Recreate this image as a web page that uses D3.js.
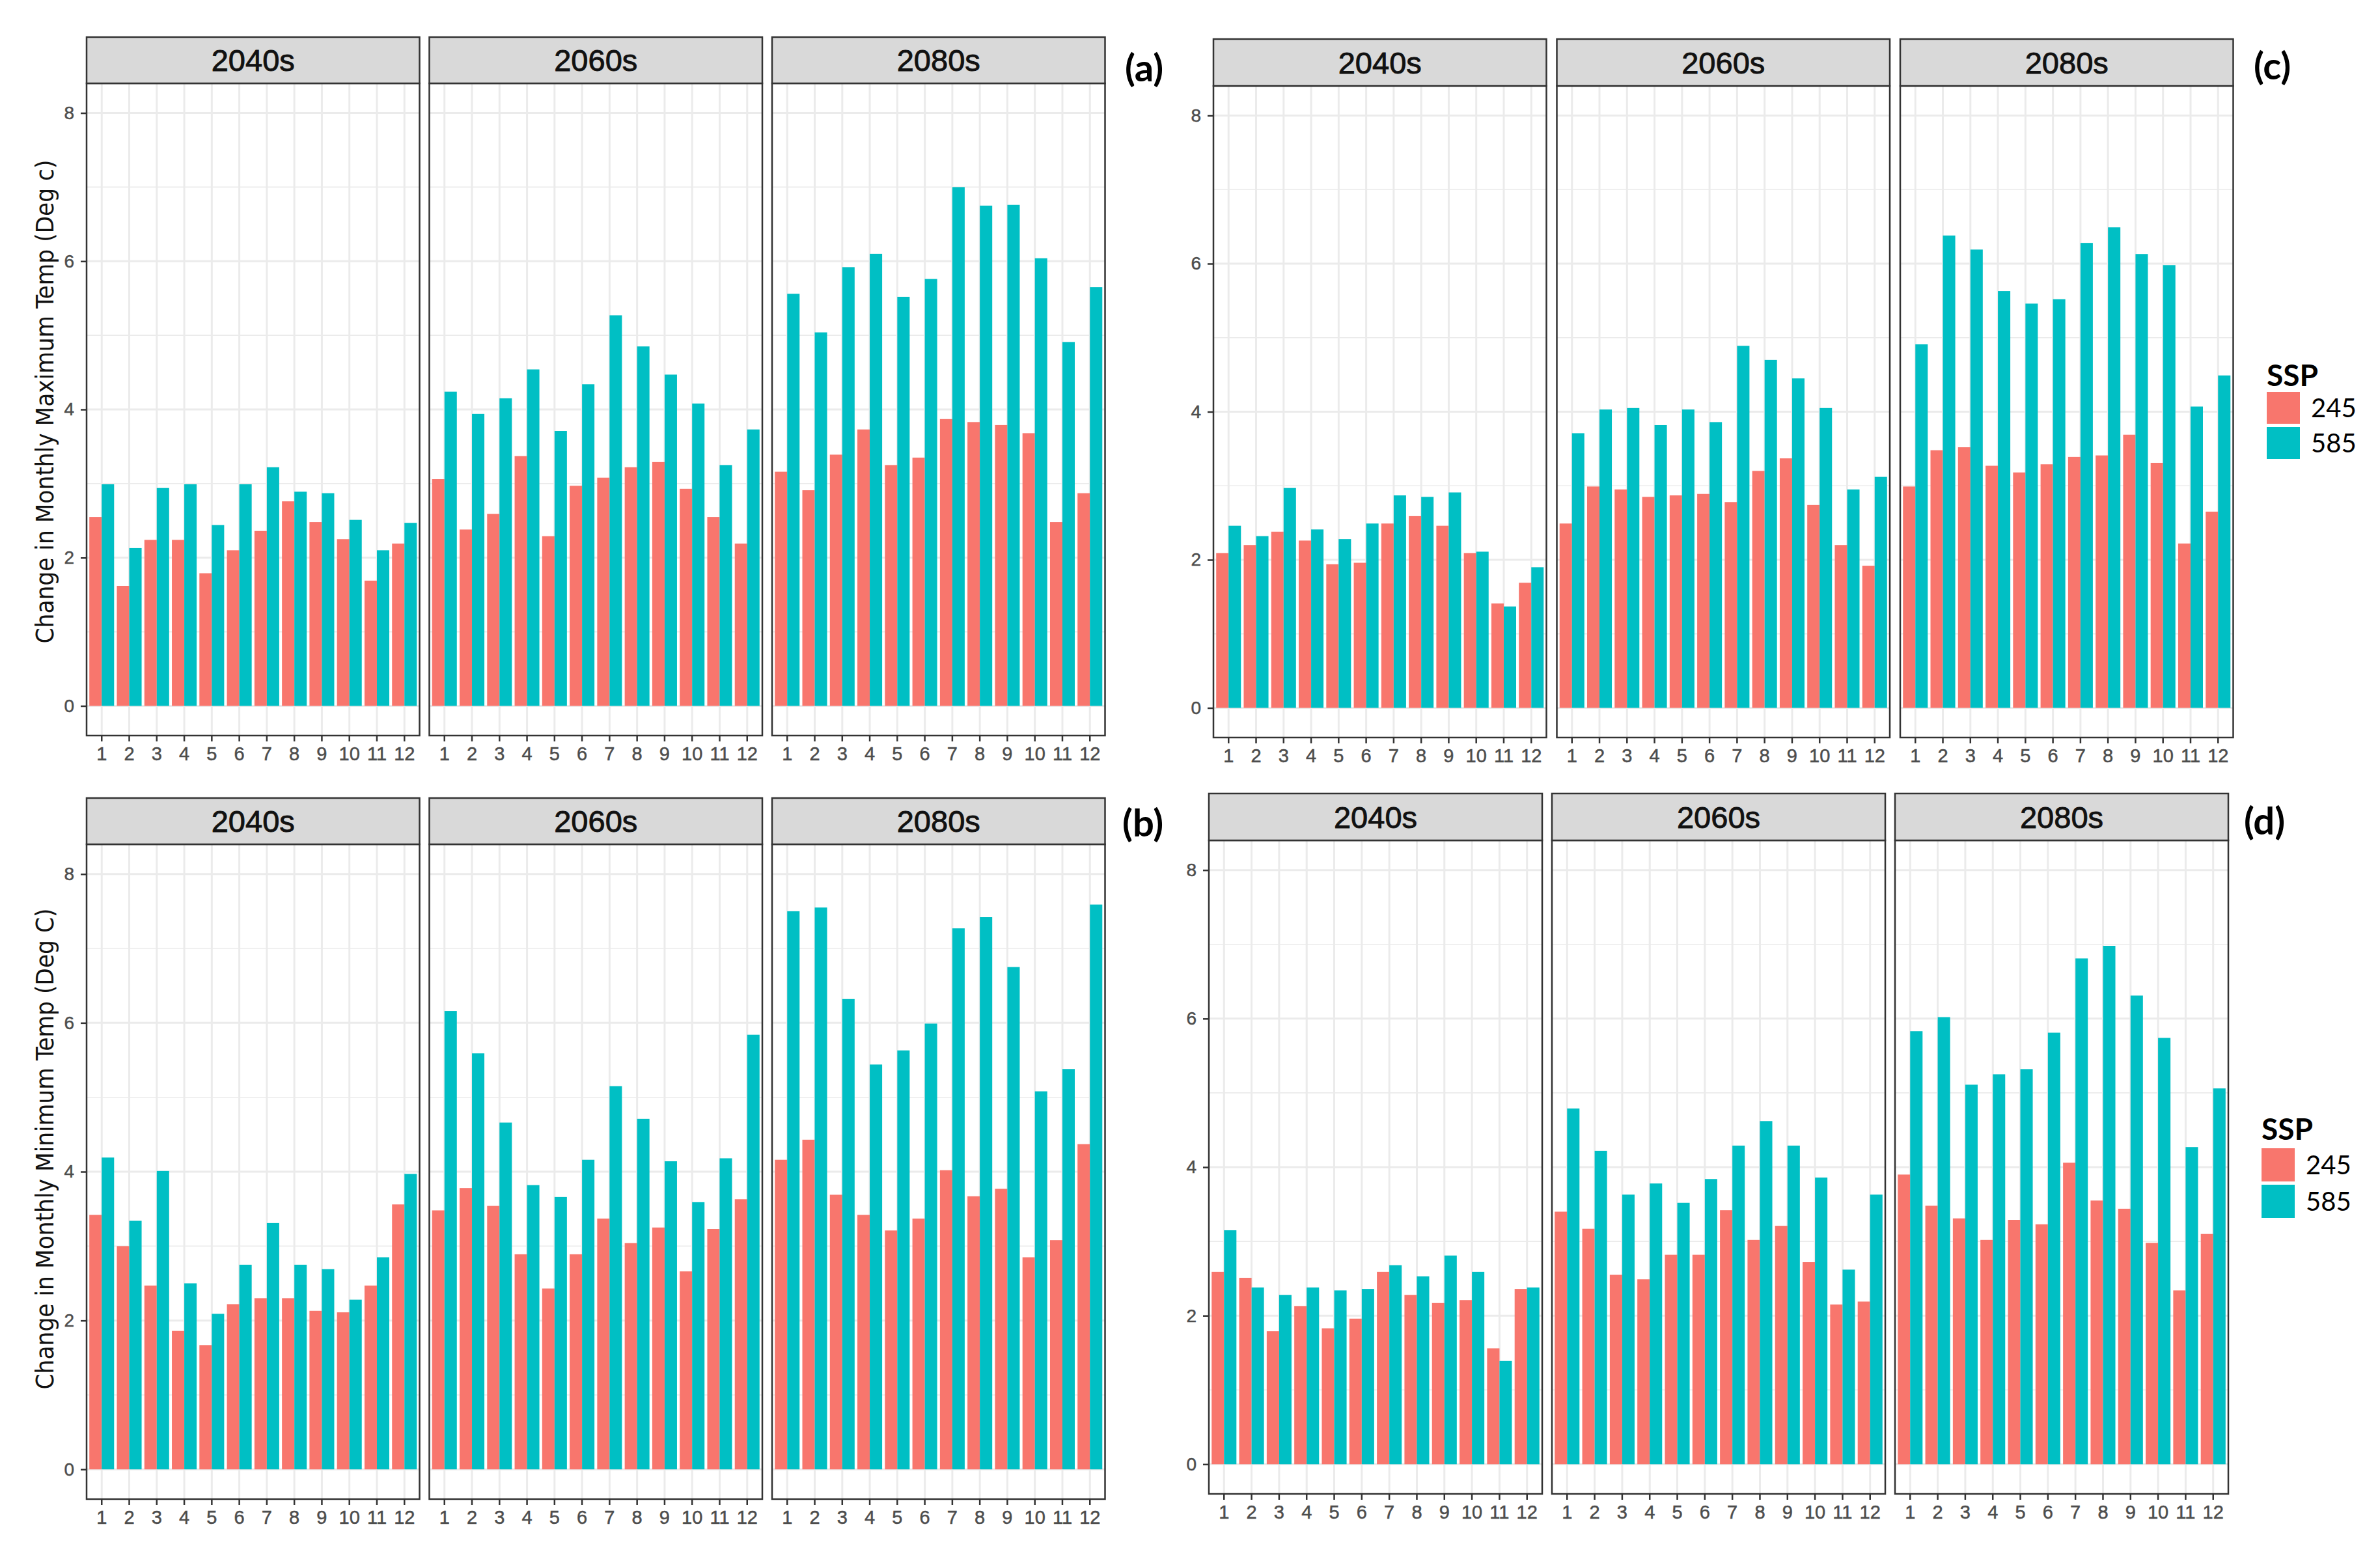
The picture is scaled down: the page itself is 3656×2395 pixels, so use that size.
<!DOCTYPE html>
<html><head><meta charset="utf-8">
<script src="https://cdn.jsdelivr.net/npm/d3@7"></script>
<style>html,body{margin:0;padding:0;background:#fff;} svg{display:block}</style>
</head><body><svg id="chart" width="3656" height="2395"></svg>
<script>
// ---------------- DATA ----------------
const months = ["1","2","3","4","5","6","7","8","9","10","11","12"];
const periods = ["2040s","2060s","2080s"];
const ssps = ["245","585"];
const yTicks = [0,2,4,6,8];
const yMinor = [1,3,5,7];

// (a) Change in monthly maximum temperature
const a245_2040s = [2.55,1.62,2.24,2.24,1.79,2.10,2.36,2.76,2.48,2.25,1.69,2.19];
const a585_2040s = [2.99,2.13,2.94,2.99,2.44,2.99,3.22,2.89,2.87,2.51,2.10,2.47];
const a245_2060s = [3.06,2.38,2.59,3.37,2.29,2.97,3.08,3.22,3.29,2.93,2.55,2.19];
const a585_2060s = [4.24,3.94,4.15,4.54,3.71,4.34,5.27,4.85,4.47,4.08,3.25,3.73];
const a245_2080s = [3.16,2.91,3.39,3.73,3.25,3.35,3.87,3.83,3.79,3.68,2.48,2.87];
const a585_2080s = [5.56,5.04,5.92,6.10,5.52,5.76,7.00,6.75,6.76,6.04,4.91,5.65];

// (b) Change in monthly minimum temperature
const b245_2040s = [3.42,3.00,2.47,1.86,1.67,2.22,2.30,2.30,2.13,2.11,2.47,3.56];
const b585_2040s = [4.19,3.34,4.01,2.50,2.09,2.75,3.31,2.75,2.69,2.28,2.85,3.97];
const b245_2060s = [3.48,3.78,3.54,2.89,2.43,2.89,3.37,3.04,3.25,2.66,3.23,3.63];
const b585_2060s = [6.16,5.59,4.66,3.82,3.66,4.16,5.15,4.71,4.14,3.59,4.18,5.84];
const b245_2080s = [4.16,4.43,3.69,3.42,3.21,3.37,4.02,3.67,3.77,2.85,3.08,4.37];
const b585_2080s = [7.50,7.55,6.32,5.44,5.63,5.99,7.27,7.42,6.75,5.08,5.38,7.59];

// (c)
const c245_2040s = [2.09,2.20,2.38,2.26,1.94,1.96,2.49,2.59,2.46,2.09,1.41,1.69];
const c585_2040s = [2.46,2.32,2.97,2.41,2.28,2.49,2.87,2.85,2.91,2.11,1.37,1.90];
const c245_2060s = [2.49,2.99,2.95,2.85,2.87,2.89,2.78,3.20,3.37,2.74,2.20,1.92];
const c585_2060s = [3.71,4.03,4.05,3.82,4.03,3.86,4.89,4.70,4.45,4.05,2.95,3.12];
const c245_2080s = [2.99,3.48,3.52,3.27,3.18,3.29,3.39,3.41,3.69,3.31,2.22,2.65];
const c585_2080s = [4.91,6.38,6.19,5.63,5.46,5.52,6.28,6.49,6.13,5.98,4.07,4.49];

// (d)
const d245_2040s = [2.59,2.51,1.79,2.13,1.83,1.96,2.59,2.28,2.17,2.21,1.56,2.36];
const d585_2040s = [3.15,2.38,2.28,2.38,2.34,2.36,2.68,2.53,2.81,2.59,1.39,2.38];
const d245_2060s = [3.40,3.17,2.55,2.49,2.82,2.82,3.42,3.02,3.21,2.72,2.15,2.19];
const d585_2060s = [4.79,4.22,3.63,3.78,3.52,3.84,4.29,4.62,4.29,3.86,2.62,3.63];
const d245_2080s = [3.90,3.48,3.31,3.02,3.29,3.23,4.06,3.55,3.44,2.98,2.34,3.10];
const d585_2080s = [5.83,6.02,5.11,5.25,5.32,5.81,6.81,6.98,6.31,5.74,4.27,5.06];

const titleA = "Change in Monthly Maximum Temp (Deg c)";
const titleB = "Change in Monthly Minimum Temp (Deg C)";

// ---------------- LAYOUT ----------------
const colors = {"245":"#F8766D","585":"#00BFC4"};
const tickFont = "'Liberation Sans', Arial, sans-serif";

const panels = [
  {label:"(a)", series:{"245":[a245_2040s,a245_2060s,a245_2080s],"585":[a585_2040s,a585_2060s,a585_2080s]},
   left:133, facetW:511.5, gap:15, stripTop:57, plotTop:128, plotBottom:1130,
   title:titleA, titleX:69, titleY:617, titleLen:743, labelX:1728, labelY:125, legend:null},
  {label:"(b)", series:{"245":[b245_2040s,b245_2060s,b245_2080s],"585":[b585_2040s,b585_2060s,b585_2080s]},
   left:133, facetW:511.5, gap:15, stripTop:1226, plotTop:1297, plotBottom:2303,
   title:titleB, titleX:69, titleY:1765, titleLen:739, labelX:1724, labelY:1285, legend:null},
  {label:"(c)", series:{"245":[c245_2040s,c245_2060s,c245_2080s],"585":[c585_2040s,c585_2060s,c585_2080s]},
   left:1864, facetW:511.5, gap:16, stripTop:60, plotTop:132, plotBottom:1133,
   title:null, labelX:3462, labelY:122, legend:{x:3482, titleY:593, boxY:602, boxW:51, boxH:49, gapY:54}},
  {label:"(d)", series:{"245":[d245_2040s,d245_2060s,d245_2080s],"585":[d585_2040s,d585_2060s,d585_2080s]},
   left:1857, facetW:512, gap:15, stripTop:1219, plotTop:1291, plotBottom:2295,
   title:null, labelX:3447, labelY:1282, legend:{x:3474, titleY:1751, boxY:1764, boxW:51, boxH:51, gapY:56}}
];

const svg = d3.select("#chart");
svg.append("rect").attr("width",3656).attr("height",2395).attr("fill","#fff");

panels.forEach(p => {
  const g = svg.append("g");
  const y = d3.scaleLinear().domain([-0.4, 8.4]).range([p.plotBottom, p.plotTop]);

  periods.forEach((per, i) => {
    const x0 = p.left + i * (p.facetW + p.gap);
    const x = d3.scaleBand().domain(months).range([x0, x0 + p.facetW]).paddingInner(0.1).paddingOuter(0.1);
    const xs = d3.scaleBand().domain(ssps).range([0, x.bandwidth()]);
    const fg = g.append("g");

    fg.append("rect").attr("x", x0).attr("y", p.plotTop).attr("width", p.facetW)
      .attr("height", p.plotBottom - p.plotTop).attr("fill", "#fff");

    fg.selectAll(".minor").data(yMinor).join("line")
      .attr("x1", x0).attr("x2", x0 + p.facetW)
      .attr("y1", d => y(d)).attr("y2", d => y(d))
      .attr("stroke", "#ebebeb").attr("stroke-width", 1.6);
    fg.selectAll(".major").data(yTicks).join("line")
      .attr("x1", x0).attr("x2", x0 + p.facetW)
      .attr("y1", d => y(d)).attr("y2", d => y(d))
      .attr("stroke", "#ebebeb").attr("stroke-width", 3);
    fg.selectAll(".vgrid").data(months).join("line")
      .attr("x1", d => x(d) + x.bandwidth()/2).attr("x2", d => x(d) + x.bandwidth()/2)
      .attr("y1", p.plotTop).attr("y2", p.plotBottom)
      .attr("stroke", "#ebebeb").attr("stroke-width", 3);

    const rows = [];
    ssps.forEach(s => months.forEach((m, k) => rows.push({m, s, v: p.series[s][i][k]})));
    fg.selectAll(".bar").data(rows).join("rect")
      .attr("x", d => x(d.m) + xs(d.s))
      .attr("width", xs.bandwidth())
      .attr("y", d => y(d.v))
      .attr("height", d => y(0) - y(d.v))
      .attr("fill", d => colors[d.s]);

    fg.append("rect").attr("x", x0).attr("y", p.plotTop).attr("width", p.facetW)
      .attr("height", p.plotBottom - p.plotTop).attr("fill", "none")
      .attr("stroke", "#333333").attr("stroke-width", 2.5);

    fg.append("rect").attr("x", x0).attr("y", p.stripTop).attr("width", p.facetW)
      .attr("height", p.plotTop - p.stripTop).attr("fill", "#d9d9d9")
      .attr("stroke", "#333333").attr("stroke-width", 2.5);
    fg.append("text").attr("x", x0 + p.facetW/2).attr("y", (p.stripTop + p.plotTop)/2)
      .attr("dy", "0.36em").attr("text-anchor", "middle")
      .style("font-family", tickFont).style("font-size", "47px").attr("fill", "#111")
      .attr("stroke", "#111").attr("stroke-width", 0.9)
      .text(per);

    const xa = fg.append("g").attr("transform", `translate(0,${p.plotBottom})`)
      .call(d3.axisBottom(x).tickSize(9).tickPadding(8));
    xa.select(".domain").remove();
    xa.selectAll("line").attr("stroke", "#333333").attr("stroke-width", 2.5);
    xa.selectAll("text").style("font-family", tickFont).style("font-size", "29px").attr("fill", "#4d4d4d")
      .attr("stroke", "#4d4d4d").attr("stroke-width", 0.5);

    if (i === 0) {
      const ya = fg.append("g").attr("transform", `translate(${x0},0)`)
        .call(d3.axisLeft(y).tickValues(yTicks).tickSize(9).tickPadding(10).tickFormat(d3.format("d")));
      ya.select(".domain").remove();
      ya.selectAll("line").attr("stroke", "#333333").attr("stroke-width", 2.5);
      ya.selectAll("text").style("font-family", tickFont).style("font-size", "28px").attr("fill", "#4d4d4d")
        .attr("stroke", "#4d4d4d").attr("stroke-width", 0.5);
    }
  });

  if (p.title) {
    g.append("text")
      .attr("transform", `translate(${p.titleX},${p.titleY}) rotate(-90)`)
      .attr("text-anchor", "middle").attr("dy", "0.35em")
      .attr("textLength", p.titleLen).attr("lengthAdjust", "spacingAndGlyphs")
      .style("font-family", "'Liberation Sans Narrow', 'DejaVu Sans Condensed', 'Liberation Sans', sans-serif")
      .style("font-size", "37px").attr("fill", "#111")
      .text(p.title);
  }

  g.append("text").attr("x", p.labelX).attr("y", p.labelY)
    .style("font-family", "Lato, 'Liberation Sans', sans-serif").style("font-weight", "bold")
    .style("font-size", "58px").attr("fill", "#000").text(p.label);

  if (p.legend) {
    const L = p.legend;
    const lg = g.append("g");
    lg.append("text").attr("x", L.x).attr("y", L.titleY)
      .style("font-family", "Lato, 'Liberation Sans', sans-serif").style("font-weight", "bold")
      .style("font-size", "46px").attr("fill", "#000").text("SSP");
    ssps.forEach((s, k) => {
      const by = L.boxY + k * L.gapY;
      lg.append("rect").attr("x", L.x).attr("y", by).attr("width", L.boxW).attr("height", L.boxH)
        .attr("fill", colors[s]);
      lg.append("text").attr("x", L.x + L.boxW + 17).attr("y", by + L.boxH/2).attr("dy", "0.36em")
        .style("font-family", "Lato, 'Liberation Sans', sans-serif")
        .style("font-size", "40px").attr("fill", "#000").text(s);
    });
  }
});
</script>
</body></html>
